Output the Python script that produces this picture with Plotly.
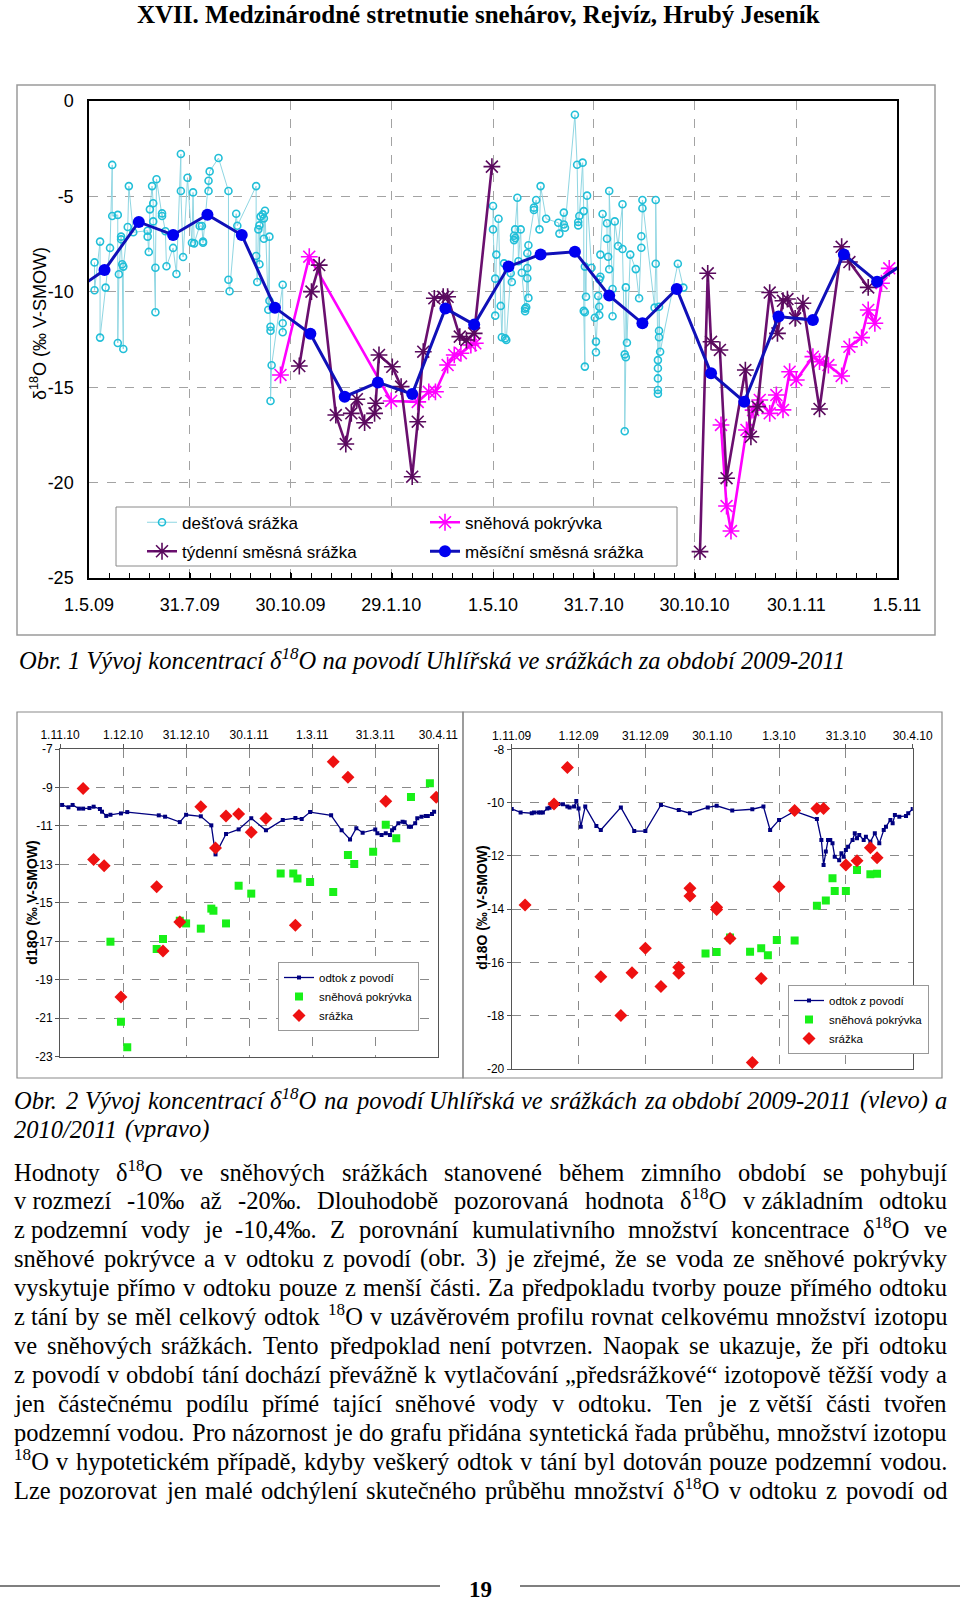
import unicodedata
import plotly.graph_objects as go

W, H = 960, 1601


def px(x):
    return x / W


def py(y):
    return 1 - y / H


SANS = "Liberation Sans, Arial, sans-serif"
NARROW = "Liberation Sans Narrow, Arial Narrow, Liberation Sans, Arial, sans-serif"
SERIF = "Liberation Serif, Times New Roman, serif"

# ---------------------------------------------------------------- top chart data
rain09_dates = ["2009-05-06", "2009-05-06", "2009-05-11", "2009-05-11", "2009-05-16", "2009-05-20",
                "2009-05-22", "2009-05-22", "2009-05-27", "2009-05-27", "2009-05-28", "2009-05-30",
                "2009-05-30", "2009-05-31", "2009-06-01", "2009-06-01", "2009-06-05", "2009-06-06",
                "2009-06-10", "2009-06-23", "2009-06-23", "2009-06-24", "2009-06-25", "2009-06-27",
                "2009-06-28", "2009-06-28", "2009-06-30", "2009-06-30", "2009-07-01", "2009-07-06",
                "2009-07-06", "2009-07-09", "2009-07-10", "2009-07-16", "2009-07-19", "2009-07-23",
                "2009-07-23", "2009-07-25", "2009-07-29", "2009-08-02", "2009-08-03", "2009-08-04",
                "2009-08-09", "2009-08-11", "2009-08-12", "2009-08-12", "2009-08-17", "2009-08-17",
                "2009-08-18", "2009-08-26", "2009-09-04", "2009-09-04", "2009-09-05", "2009-09-11",
                "2009-09-12", "2009-09-29", "2009-09-29", "2009-09-30", "2009-10-01", "2009-10-02",
                "2009-10-02", "2009-10-03", "2009-10-05", "2009-10-06", "2009-10-06", "2009-10-07",
                "2009-10-10", "2009-10-11", "2009-10-11", "2009-10-12", "2009-10-12", "2009-10-12",
                "2009-10-13", "2009-10-23", "2009-10-23", "2009-10-23"]
rain09_vals = [-8.46, -9.92, -7.37, -12.4, -9.78, -7.70,
               -3.35, -6.03, -5.97, -12.68, -9.08, -7.11,
               -7.25, -8.56, -13.0, -8.68, -6.60, -4.46,
               -6.88, -6.80, -7.11, -7.91, -5.68, -4.46,
               -5.36, -6.31, -11.07, -8.74, -4.10, -6.03,
               -5.89, -6.83, -8.66, -7.70, -9.07, -2.78,
               -4.72, -8.18, -4.02, -7.43, -4.79, -7.46,
               -6.55, -6.55, -7.36, -7.43, -4.18, -4.72,
               -3.69, -2.99, -4.72, -9.37, -9.97, -5.91,
               -6.54, -4.46, -8.12, -9.49, -6.73, -6.52,
               -8.56, -6.06, -5.94, -6.15, -7.22, -5.75,
               -10.94, -7.11, -10.47, -12.04, -11.83, -15.72,
               -13.85, -9.63, -11.65, -12.12]

rain10_dates = ["2010-05-01", "2010-05-01", "2010-05-03", "2010-05-03", "2010-05-04", "2010-05-06",
                "2010-05-08", "2010-05-09", "2010-05-11", "2010-05-12", "2010-05-13", "2010-05-17",
                "2010-05-18", "2010-05-20", "2010-05-20", "2010-05-21", "2010-05-21", "2010-05-23",
                "2010-05-24", "2010-05-26", "2010-05-27", "2010-05-30", "2010-05-30", "2010-05-31",
                "2010-06-01", "2010-06-01", "2010-06-01", "2010-06-02", "2010-06-02", "2010-06-07",
                "2010-06-07", "2010-06-09", "2010-06-12", "2010-06-13", "2010-06-18", "2010-06-29",
                "2010-06-30", "2010-07-04", "2010-07-04", "2010-07-05", "2010-07-14", "2010-07-16",
                "2010-07-17", "2010-07-17", "2010-07-18", "2010-07-21", "2010-07-22", "2010-07-22",
                "2010-07-23", "2010-07-23", "2010-07-23", "2010-07-24", "2010-07-25", "2010-07-29",
                "2010-08-01", "2010-08-02", "2010-08-02", "2010-08-04", "2010-08-05", "2010-08-05",
                "2010-08-05", "2010-08-06", "2010-08-06", "2010-08-08", "2010-08-12", "2010-08-12",
                "2010-08-13", "2010-08-14", "2010-08-14", "2010-08-17", "2010-08-17", "2010-08-19",
                "2010-08-22", "2010-08-26", "2010-08-26", "2010-08-28", "2010-08-28", "2010-08-29",
                "2010-08-29", "2010-08-30", "2010-09-02", "2010-09-07", "2010-09-10", "2010-09-12",
                "2010-09-12", "2010-09-13", "2010-09-13", "2010-09-24", "2010-09-25", "2010-09-25",
                "2010-09-27", "2010-09-27", "2010-09-27", "2010-09-27", "2010-09-27", "2010-09-28",
                "2010-09-28", "2010-09-28", "2010-09-29", "2010-10-15", "2010-10-20"]
rain10_vals = [-5.50, -6.73, -9.31, -11.25, -8.05, -6.17,
               -10.74, -12.38, -8.51, -12.44, -12.53, -9.03,
               -9.49, -7.29, -7.06, -7.18, -6.73, -5.07,
               -8.40, -6.73, -9.00, -10.88, -11.02, -10.81,
               -7.98, -8.75, -9.29, -10.32, -7.56, -5.71,
               -5.59, -5.19, -6.73, -4.46, -6.17, -6.38,
               -6.95, -5.85, -6.47, -6.64, -0.72, -3.34,
               -6.52, -6.34, -6.03, -3.23, -5.77, -11.0,
               -13.92, -11.07, -8.68, -10.26, -4.96, -8.74,
               -11.36, -12.61, -13.17, -10.22, -10.78, -11.22,
               -9.35, -9.21, -8.05, -5.92, -6.41, -7.22,
               -8.16, -8.82, -4.72, -9.85, -11.28, -6.31,
               -7.60, -5.41, -7.76, -13.28, -17.31, -13.43,
               -9.77, -12.67, -8.05, -8.81, -10.34, -7.69,
               -7.09, -5.62, -5.19, -10.83, -8.53, -5.19,
               -13.58, -14.01, -14.54, -15.15, -15.34, -12.38,
               -12.04, -10.78, -13.14, -8.53, -9.78]

week09_dates = ["2009-11-07", "2009-11-18", "2009-11-25", "2009-12-10", "2009-12-19", "2009-12-24",
                "2009-12-29", "2010-01-05", "2010-01-14", "2010-01-15", "2010-01-18", "2010-01-30",
                "2010-02-07", "2010-02-17", "2010-02-22", "2010-02-27", "2010-03-09", "2010-03-17",
                "2010-03-21", "2010-04-01", "2010-04-07", "2010-04-14", "2010-04-30"]
week09_vals = [-13.89, -9.99, -8.60, -16.46, -17.98, -16.37,
               -15.63, -16.86, -16.37, -15.84, -13.31, -13.93,
               -14.97, -19.69, -16.81, -13.14, -10.34, -10.26,
               -10.26, -12.35, -12.53, -12.18, -3.44]

week10_dates = ["2010-11-04", "2010-11-11", "2010-11-14", "2010-11-22", "2010-11-28", "2010-12-15",
                "2010-12-20", "2010-12-26", "2011-01-06", "2011-01-13", "2011-01-18", "2011-01-22",
                "2011-01-29", "2011-02-05", "2011-02-20", "2011-03-12", "2011-03-19", "2011-04-05"]
week10_vals = [-23.62, -9.03, -12.62, -13.05, -19.77, -14.1,
               -17.6, -16.02, -10.04, -12.18, -10.47, -10.38,
               -11.39, -10.6, -16.14, -7.64, -8.44, -9.77]

snow09_dates = ["2009-10-21", "2009-11-16", "2010-01-29", "2010-02-22", "2010-03-04", "2010-03-10",
                "2010-03-21", "2010-03-27", "2010-04-02", "2010-04-11", "2010-04-15"]
snow09_vals = [-14.36, -8.16, -15.72, -15.77, -15.24, -15.24,
               -13.84, -13.31, -13.22, -12.79, -12.7]

snow10_dates = ["2010-11-23", "2010-11-28", "2010-12-02", "2010-12-16", "2010-12-22", "2010-12-28",
                "2011-01-06", "2011-01-12", "2011-01-18", "2011-01-24", "2011-01-30", "2011-02-14",
                "2011-02-20", "2011-02-28", "2011-03-12", "2011-03-19", "2011-03-30", "2011-04-05",
                "2011-04-11", "2011-04-17", "2011-04-24"]
snow10_vals = [-16.98, -21.23, -22.54, -17.24, -16.2, -15.67,
               -16.37, -15.41, -16.19, -14.19, -14.62, -13.4,
               -13.66, -13.84, -14.41, -12.88, -12.4, -10.95,
               -11.65, -9.55, -8.77]

month_dates = ["2009-04-14", "2009-05-15", "2009-06-15", "2009-07-16", "2009-08-16", "2009-09-16",
               "2009-10-16", "2009-11-17", "2009-12-18", "2010-01-17", "2010-02-17", "2010-03-19",
               "2010-04-14", "2010-05-15", "2010-06-13", "2010-07-14", "2010-08-14", "2010-09-13",
               "2010-10-14", "2010-11-14", "2010-12-14", "2011-01-14", "2011-02-14", "2011-03-14",
               "2011-04-13", "2011-05-15"]
month_vals = [-10.1, -8.86, -6.34, -7.02, -5.96, -7.02,
              -10.83, -12.2, -15.5, -14.75, -15.36, -10.87,
              -11.72, -8.68, -8.04, -7.9, -10.2, -11.65,
              -9.85, -14.27, -15.76, -11.3, -11.48, -8.04,
              -9.47, -8.2]

top_tick_dates = ["2009-05-01", "2009-07-31", "2009-10-30", "2010-01-29", "2010-05-01",
                  "2010-07-31", "2010-10-30", "2011-01-30", "2011-05-01"]
top_tick_labels = ["1.5.09", "31.7.09", "30.10.09", "29.1.10", "1.5.10",
                   "31.7.10", "30.10.10", "30.1.11", "1.5.11"]
top_y_ticks = [0, -5, -10, -15, -20, -25]

# ---------------------------------------------------------------- bottom-left (2010/2011)
bl_flow_dates = ["2010-11-02", "2010-11-05", "2010-11-07", "2010-11-10", "2010-11-12", "2010-11-15",
                 "2010-11-17", "2010-11-20", "2010-11-21", "2010-11-23", "2010-11-25", "2010-11-30",
                 "2010-12-03", "2010-12-18", "2010-12-21", "2010-12-28", "2010-12-31", "2011-01-07",
                 "2011-01-12", "2011-01-14", "2011-01-19", "2011-01-25", "2011-01-31", "2011-02-07",
                 "2011-02-15", "2011-02-21", "2011-02-24", "2011-02-28", "2011-03-10", "2011-03-15",
                 "2011-03-19", "2011-03-22", "2011-03-25", "2011-03-31", "2011-04-01", "2011-04-03",
                 "2011-04-05", "2011-04-07", "2011-04-08", "2011-04-09", "2011-04-11", "2011-04-13",
                 "2011-04-14", "2011-04-16", "2011-04-17", "2011-04-19", "2011-04-20", "2011-04-22",
                 "2011-04-24", "2011-04-25", "2011-04-27", "2011-04-28"]
bl_flow_vals = [-9.91, -10.03, -9.91, -10.10, -10.10, -10.07,
                -10.0, -10.12, -10.26, -10.48, -10.42, -10.35,
                -10.28, -10.45, -10.52, -10.80, -10.42, -10.50,
                -10.97, -12.48, -11.42, -11.18, -10.60, -11.23,
                -10.69, -10.59, -10.64, -10.28, -10.45, -11.23,
                -11.70, -11.12, -11.35, -11.18, -11.38, -11.47,
                -11.38, -11.47, -11.23, -11.12, -10.86, -10.78,
                -10.81, -11.04, -11.04, -10.86, -10.60, -10.52,
                -10.48, -10.48, -10.38, -10.26]

bl_snow_dates = ["2010-11-25", "2010-11-30", "2010-12-03", "2010-12-17", "2010-12-20", "2010-12-28",
                 "2010-12-31", "2011-01-07", "2011-01-12", "2011-01-13", "2011-01-19", "2011-01-25",
                 "2011-01-31", "2011-02-14", "2011-02-20", "2011-02-22", "2011-02-28", "2011-03-11",
                 "2011-03-18", "2011-03-21", "2011-03-30", "2011-04-05", "2011-04-10", "2011-04-17",
                 "2011-04-26"]
bl_snow_vals = [-17.02, -21.18, -22.51, -17.40, -16.88, -15.93,
                -16.07, -16.34, -15.30, -15.41, -16.07, -14.11,
                -14.52, -13.48, -13.48, -13.73, -13.92, -14.44,
                -12.51, -12.98, -12.34, -10.94, -11.64, -9.50,
                -8.78]

bl_rain_dates = ["2010-11-12", "2010-11-17", "2010-11-22", "2010-11-30", "2010-12-17", "2010-12-20",
                 "2010-12-28", "2011-01-07", "2011-01-14", "2011-01-19", "2011-01-25", "2011-01-31",
                 "2011-02-07", "2011-02-21", "2011-03-11", "2011-03-18", "2011-04-05", "2011-04-29"]
bl_rain_vals = [-9.05, -12.74, -13.07, -19.90, -14.16, -17.50,
                -16.0, -10.0, -12.15, -10.48, -10.38, -11.33,
                -10.62, -16.17, -7.66, -8.47, -9.72, -9.51]

bl_tick_dates = ["2010-11-01", "2010-12-01", "2010-12-31", "2011-01-30", "2011-03-01", "2011-03-31", "2011-04-30"]
bl_tick_labels = ["1.11.10", "1.12.10", "31.12.10", "30.1.11", "1.3.11", "31.3.11", "30.4.11"]
bl_y_ticks = [-7, -9, -11, -13, -15, -17, -19, -21, -23]

# ---------------------------------------------------------------- bottom-right (2009/2010)
br_flow_dates = ["2009-11-01", "2009-11-05", "2009-11-10", "2009-11-11", "2009-11-13", "2009-11-14",
                 "2009-11-15", "2009-11-17", "2009-11-18", "2009-11-20", "2009-11-22", "2009-11-24",
                 "2009-11-26", "2009-11-27", "2009-11-29", "2009-11-30", "2009-12-01", "2009-12-02",
                 "2009-12-04", "2009-12-09", "2009-12-11", "2009-12-20", "2009-12-26", "2009-12-31",
                 "2010-01-07", "2010-01-15", "2010-01-20", "2010-01-28", "2010-02-01", "2010-02-08",
                 "2010-02-17", "2010-02-22", "2010-02-25", "2010-03-01", "2010-03-08", "2010-03-18",
                 "2010-03-20", "2010-03-21", "2010-03-22", "2010-03-23", "2010-03-24", "2010-03-25",
                 "2010-03-26", "2010-03-28", "2010-03-29", "2010-03-30", "2010-03-31", "2010-04-01",
                 "2010-04-03", "2010-04-04", "2010-04-05", "2010-04-06", "2010-04-08", "2010-04-09",
                 "2010-04-11", "2010-04-13", "2010-04-15", "2010-04-17", "2010-04-18", "2010-04-20",
                 "2010-04-21", "2010-04-22", "2010-04-24", "2010-04-27", "2010-04-28", "2010-04-30"]
br_flow_vals = [-10.24, -10.37, -10.40, -10.37, -10.37, -10.37,
                -10.37, -10.22, -10.19, -10.15, -10.05, -10.06,
                -10.15, -10.18, -10.15, -9.94, -10.22, -10.91,
                -10.15, -10.88, -11.03, -10.18, -11.07, -11.07,
                -10.09, -10.28, -10.40, -10.18, -10.12, -10.30,
                -10.25, -10.15, -11.03, -10.65, -10.32, -10.62,
                -11.40, -12.34, -11.84, -11.40, -11.40, -11.53,
                -12.03, -12.16, -11.90, -12.03, -11.78, -11.66,
                -11.40, -11.15, -11.34, -11.22, -11.40, -11.28,
                -11.47, -11.15, -11.53, -11.03, -10.91, -10.65,
                -10.78, -10.47, -10.53, -10.50, -10.40, -10.24]

br_snow_dates = ["2010-01-27", "2010-02-01", "2010-02-07", "2010-02-16", "2010-02-21", "2010-02-24",
                 "2010-02-28", "2010-03-08", "2010-03-18", "2010-03-22", "2010-03-25", "2010-03-26",
                 "2010-03-31", "2010-04-05", "2010-04-11", "2010-04-14"]
br_snow_vals = [-15.66, -15.61, -15.06, -15.60, -15.47, -15.73,
                -15.16, -15.18, -13.87, -13.68, -12.84, -13.32,
                -13.32, -12.53, -12.69, -12.67]

br_rain_dates = ["2009-11-07", "2009-11-20", "2009-11-26", "2009-12-11", "2009-12-20", "2009-12-25",
                 "2009-12-31", "2010-01-07", "2010-01-15", "2010-01-15", "2010-01-20", "2010-01-20",
                 "2010-02-01", "2010-02-01", "2010-02-07", "2010-02-17", "2010-02-21", "2010-03-01",
                 "2010-03-08", "2010-03-18", "2010-03-21", "2010-03-31", "2010-04-05", "2010-04-11",
                 "2010-04-14"]
br_rain_vals = [-13.84, -10.05, -8.68, -16.54, -17.99, -16.39,
                -15.47, -16.90, -16.18, -16.41, -13.22, -13.51,
                -13.93, -14.01, -15.10, -19.76, -16.60, -13.16,
                -10.30, -10.22, -10.22, -12.34, -12.18, -11.70,
                -12.07]

br_tick_dates = ["2009-11-01", "2009-12-01", "2009-12-31", "2010-01-30", "2010-03-01", "2010-03-31", "2010-04-30"]
br_tick_labels = ["1.11.09", "1.12.09", "31.12.09", "30.1.10", "1.3.10", "31.3.10", "30.4.10"]
br_y_ticks = [-8, -10, -12, -14, -16, -18, -20]

# ---------------------------------------------------------------- texts
page_title = "XVII. Medzinárodné stretnutie snehárov, Rejvíz, Hrubý Jeseník"
caption1 = "Obr. 1 Vývoj koncentrací δ<sup>18</sup>O na povodí Uhlířská ve srážkách za období 2009-2011"
caption2_lines = [
    "Obr. 2 Vývoj koncentrací δ<sup>18</sup>O na povodí Uhlířská ve srážkách za období 2009-2011 (vlevo) a",
    "2010/2011 (vpravo)",
]
body_lines = [
    "Hodnoty δ<sup>18</sup>O ve sněhových srážkách stanovené během zimního období se pohybují",
    "v\u00a0rozmezí -10‰ až -20‰. Dlouhodobě pozorovaná hodnota δ<sup>18</sup>O v\u00a0základním odtoku",
    "z\u00a0podzemní vody je -10,4‰. Z porovnání kumulativního množství koncentrace δ<sup>18</sup>O ve",
    "sněhové pokrývce a v odtoku z povodí (obr. 3) je zřejmé, že se voda ze sněhové pokrývky",
    "vyskytuje přímo v odtoku pouze z menší části. Za předpokladu tvorby pouze přímého odtoku",
    "z\u00a0tání by se měl celkový odtok <sup>18</sup>O v uzávěrovém profilu rovnat celkovému množství izotopu",
    "ve sněhových srážkách. Tento předpoklad není potvrzen. Naopak se ukazuje, že při odtoku",
    "z povodí v období tání dochází převážně k vytlačování „předsrážkové“ izotopově těžší vody a",
    "jen částečnému podílu přímé tající sněhové vody  v odtoku. Ten je z\u00a0větší části tvořen",
    "podzemní vodou. Pro názornost je do grafu přidána syntetická řada průběhu, množství izotopu",
    "<sup>18</sup>O v hypotetickém případě, kdyby veškerý odtok v tání byl dotován pouze podzemní vodou.",
    "Lze pozorovat jen malé odchýlení skutečného průběhu množství δ<sup>18</sup>O v odtoku z povodí od",
]
page_number = "19"

# ---------------------------------------------------------------- font metrics (Times) for justification
ROMAN = {' ': 250, '\u00a0': 250, '(': 333, ')': 333, ',': 250, '-': 333, '.': 250, '/': 278,
         ':': 278, ';': 278, '‰': 1000, '„': 444, '“': 444, 'δ': 500,
         'A': 722, 'B': 667, 'C': 667, 'D': 722, 'E': 611, 'F': 556, 'G': 722, 'H': 722, 'I': 333,
         'J': 389, 'K': 722, 'L': 611, 'M': 889, 'N': 722, 'O': 722, 'P': 556, 'Q': 722, 'R': 667,
         'S': 556, 'T': 611, 'U': 722, 'V': 722, 'W': 944, 'X': 722, 'Y': 722, 'Z': 611,
         'a': 444, 'b': 500, 'c': 444, 'd': 500, 'e': 444, 'f': 333, 'g': 500, 'h': 500, 'i': 278,
         'j': 278, 'k': 500, 'l': 278, 'm': 778, 'n': 500, 'o': 500, 'p': 500, 'q': 500, 'r': 333,
         's': 389, 't': 278, 'u': 500, 'v': 500, 'w': 722, 'x': 500, 'y': 500, 'z': 444}
ITALIC = dict(ROMAN)
ITALIC.update({'A': 611, 'B': 611, 'F': 611, 'K': 667, 'L': 556, 'M': 833, 'N': 667, 'P': 611,
               'R': 611, 'S': 500, 'T': 556, 'V': 611, 'W': 833, 'X': 611, 'Y': 556, 'Z': 556,
               'a': 500, 'f': 278, 'k': 444, 'm': 722, 'r': 389, 'v': 444, 'w': 667, 'x': 444,
               'y': 444, 'z': 389})


def text_width(s, table, size):
    w, scale, i = 0.0, 1.0, 0
    while i < len(s):
        if s.startswith('<sup>', i):
            scale, i = 0.7, i + 5
            continue
        if s.startswith('</sup>', i):
            scale, i = 1.0, i + 6
            continue
        ch = s[i]
        base = unicodedata.normalize('NFD', ch)[0]
        w += table.get(ch, table.get(base, 500)) * scale
        i += 1
    return w / 1000.0 * size


# ---------------------------------------------------------------- figure
fig = go.Figure()

gap_x = [None]
fig.add_trace(go.Scatter(
    x=rain09_dates + gap_x + rain10_dates, y=rain09_vals + [None] + rain10_vals,
    mode="lines+markers", name="dešťová srážka", legend="legend",
    line=dict(color="#8fd6e2", width=1),
    marker=dict(symbol="circle-open", size=7, color="#22bfd8", line=dict(width=1.6, color="#22bfd8")),
    xaxis="x", yaxis="y", connectgaps=False))
fig.add_trace(go.Scatter(
    x=snow09_dates + gap_x + snow10_dates, y=snow09_vals + [None] + snow10_vals,
    mode="lines+markers", name="sněhová pokrývka", legend="legend3",
    line=dict(color="#ff00ff", width=2.6),
    marker=dict(symbol="asterisk-open", size=14, color="#ff00ff", line=dict(width=1.6, color="#ff00ff")),
    xaxis="x", yaxis="y", connectgaps=False))
fig.add_trace(go.Scatter(
    x=week09_dates + gap_x + week10_dates, y=week09_vals + [None] + week10_vals,
    mode="lines+markers", name="týdenní směsná srážka", legend="legend2",
    line=dict(color="#6a0f6e", width=2.6),
    marker=dict(symbol="asterisk-open", size=14, color="#5a0a5e", line=dict(width=1.6, color="#5a0a5e")),
    xaxis="x", yaxis="y", connectgaps=False))
fig.add_trace(go.Scatter(
    x=month_dates, y=month_vals,
    mode="lines+markers", name="měsíční směsná srážka", legend="legend4",
    line=dict(color="#1010b8", width=3),
    marker=dict(symbol="circle", size=12, color="#0000f0"),
    xaxis="x", yaxis="y"))

# bottom-left
fig.add_trace(go.Scatter(x=bl_flow_dates, y=bl_flow_vals, mode="lines+markers", name="odtok z povodí",
                         legend="legend5", line=dict(color="#000080", width=1.3),
                         marker=dict(symbol="square", size=4, color="#000080"), xaxis="x2", yaxis="y2"))
fig.add_trace(go.Scatter(x=bl_snow_dates, y=bl_snow_vals, mode="markers", name="sněhová pokrývka",
                         legend="legend5", marker=dict(symbol="square", size=8, color="#18f018"),
                         xaxis="x2", yaxis="y2"))
fig.add_trace(go.Scatter(x=bl_rain_dates, y=bl_rain_vals, mode="markers", name="srážka",
                         legend="legend5", marker=dict(symbol="diamond", size=10, color="#ee1111"),
                         xaxis="x2", yaxis="y2"))
# bottom-right
fig.add_trace(go.Scatter(x=br_flow_dates, y=br_flow_vals, mode="lines+markers", name="odtok z povodí",
                         legend="legend6", line=dict(color="#000080", width=1.3),
                         marker=dict(symbol="square", size=4, color="#000080"), xaxis="x3", yaxis="y3"))
fig.add_trace(go.Scatter(x=br_snow_dates, y=br_snow_vals, mode="markers", name="sněhová pokrývka",
                         legend="legend6", marker=dict(symbol="square", size=8, color="#18f018"),
                         xaxis="x3", yaxis="y3"))
fig.add_trace(go.Scatter(x=br_rain_dates, y=br_rain_vals, mode="markers", name="srážka",
                         legend="legend6", marker=dict(symbol="diamond", size=10, color="#ee1111"),
                         xaxis="x3", yaxis="y3"))

GRID = "#a3a3a3"
GRID2 = "#8a8a8a"
SMALL = 12

fig.update_layout(
    width=W, height=H, autosize=False,
    margin=dict(l=0, r=0, t=0, b=0, autoexpand=False),
    paper_bgcolor="white", plot_bgcolor="white",
    showlegend=True,
    xaxis=dict(type="date", domain=[px(89), px(897)], range=["2009-05-01", "2011-05-01"],
               anchor="y", tickmode="array", tickvals=top_tick_dates, ticktext=top_tick_labels,
               showgrid=True, gridcolor=GRID, griddash="dash", gridwidth=1,
               showline=True, linecolor="black", linewidth=1.5, mirror=True,
               ticks="inside", ticklen=6, tickcolor="black", ticklabelstandoff=10,
               tickfont=dict(family=SANS, size=18, color="black"), zeroline=False, automargin=False,
               minor=dict(tickmode="linear", tick0="2009-05-01", dtick=1576800000,
                          ticks="inside", ticklen=5, tickcolor="black", showgrid=False)),
    yaxis=dict(domain=[py(578), py(101)], range=[-25, 0], anchor="x",
               tickmode="array", tickvals=top_y_ticks, ticktext=[str(v) for v in top_y_ticks],
               showgrid=True, gridcolor=GRID, griddash="dash", gridwidth=1,
               showline=True, linecolor="black", linewidth=1.5, mirror=True,
               ticks="", ticklabelstandoff=10, automargin=False,
               tickfont=dict(family=SANS, size=18, color="black"), zeroline=False),
    xaxis2=dict(type="date", domain=[px(60), px(438.3)], range=["2010-11-01", "2011-04-30"],
                anchor="y2", side="top", tickmode="array", tickvals=bl_tick_dates, ticktext=bl_tick_labels,
                showgrid=True, gridcolor=GRID2, griddash="dash", gridwidth=1,
                showline=True, linecolor="#555555", linewidth=1, mirror=True,
                ticks="outside", ticklen=4, tickcolor="#555555", automargin=False,
                tickfont=dict(family=NARROW, size=SMALL, color="black"), zeroline=False),
    yaxis2=dict(domain=[py(1056.7), py(749)], range=[-23, -7], anchor="x2",
                tickmode="array", tickvals=bl_y_ticks, ticktext=[str(v) for v in bl_y_ticks],
                showgrid=True, gridcolor=GRID2, griddash="dash", gridwidth=1,
                showline=True, linecolor="#555555", linewidth=1, mirror=True,
                ticks="outside", ticklen=4, tickcolor="#555555", automargin=False,
                tickfont=dict(family=NARROW, size=SMALL, color="black"), zeroline=False),
    xaxis3=dict(type="date", domain=[px(511.7), px(912.7)], range=["2009-11-01", "2010-04-30"],
                anchor="y3", side="top", tickmode="array", tickvals=br_tick_dates, ticktext=br_tick_labels,
                showgrid=True, gridcolor=GRID2, griddash="dash", gridwidth=1,
                showline=True, linecolor="#555555", linewidth=1, mirror=True,
                ticks="outside", ticklen=4, tickcolor="#555555", automargin=False,
                tickfont=dict(family=NARROW, size=SMALL, color="black"), zeroline=False),
    yaxis3=dict(domain=[py(1069), py(749.3)], range=[-20, -8], anchor="x3",
                tickmode="array", tickvals=br_y_ticks, ticktext=[str(v) for v in br_y_ticks],
                showgrid=True, gridcolor=GRID2, griddash="dash", gridwidth=1,
                showline=True, linecolor="#555555", linewidth=1, mirror=True,
                ticks="outside", ticklen=4, tickcolor="#555555", automargin=False,
                tickfont=dict(family=NARROW, size=SMALL, color="black"), zeroline=False),
)

top_leg = dict(xanchor="left", yanchor="middle", bgcolor="rgba(0,0,0,0)", borderwidth=0,
               font=dict(family=SANS, size=17, color="black"))
fig.update_layout(
    legend=dict(x=px(142), y=py(522.7), **top_leg),
    legend2=dict(x=px(142), y=py(551.7), **top_leg),
    legend3=dict(x=px(425), y=py(522.7), **top_leg),
    legend4=dict(x=px(425), y=py(551.7), **top_leg),
    legend5=dict(x=px(278), y=py(962), xanchor="left", yanchor="top", bgcolor="white",
                 bordercolor="#999999", borderwidth=1, font=dict(family=NARROW, size=11.5, color="black")),
    legend6=dict(x=px(788), y=py(985), xanchor="left", yanchor="top", bgcolor="white",
                 bordercolor="#999999", borderwidth=1, font=dict(family=NARROW, size=11.5, color="black")),
)

# frames and top legend box
shapes = [
    dict(type="rect", xref="paper", yref="paper", x0=px(17), x1=px(935), y0=py(85), y1=py(635),
         line=dict(color="#9a9a9a", width=1.5), layer="below"),
    dict(type="rect", xref="paper", yref="paper", x0=px(17), x1=px(463), y0=py(712), y1=py(1078),
         line=dict(color="#8a8a8a", width=1.2), layer="below"),
    dict(type="rect", xref="paper", yref="paper", x0=px(463), x1=px(942), y0=py(712), y1=py(1078),
         line=dict(color="#8a8a8a", width=1.2), layer="below"),
    dict(type="rect", xref="paper", yref="paper", x0=px(116), x1=px(677), y0=py(507), y1=py(566),
         line=dict(color="#8a8a8a", width=1), fillcolor="white", layer="above"),
    dict(type="line", xref="paper", yref="paper", x0=px(0), x1=px(440), y0=py(1586), y1=py(1586),
         line=dict(color="#555555", width=1.5)),
    dict(type="line", xref="paper", yref="paper", x0=px(520), x1=px(960), y0=py(1586), y1=py(1586),
         line=dict(color="#555555", width=1.5)),
]
fig.update_layout(shapes=shapes)

ann = []
ann.append(dict(x=px(478.5), y=py(15), xref="paper", yref="paper", xanchor="center", yanchor="middle",
                text="<b>" + page_title + "</b>", showarrow=False,
                font=dict(family=SERIF, size=25, color="black")))
ann.append(dict(x=px(38), y=py(324), xref="paper", yref="paper", xanchor="center", yanchor="middle",
                text="δ<sup>18</sup>O (‰ V-SMOW)", textangle=-90, showarrow=False,
                font=dict(family=SANS, size=18, color="black")))
ann.append(dict(x=px(31.7), y=py(903), xref="paper", yref="paper", xanchor="center", yanchor="middle",
                text="<b>d18O (‰ V-SMOW)</b>", textangle=-90, showarrow=False,
                font=dict(family=SANS, size=14, color="black")))
ann.append(dict(x=px(481.7), y=py(908), xref="paper", yref="paper", xanchor="center", yanchor="middle",
                text="<b>d18O (‰ V-SMOW)</b>", textangle=-90, showarrow=False,
                font=dict(family=SANS, size=14, color="black")))
ann.append(dict(x=px(17), y=py(659), xref="paper", yref="paper", xanchor="left", yanchor="middle",
                text="<i>" + caption1 + "</i>", showarrow=False,
                font=dict(family=SERIF, size=24.5, color="black")))
ann.append(dict(x=px(480), y=py(1589), xref="paper", yref="paper", xanchor="center", yanchor="middle",
                text="<b>" + page_number + "</b>", showarrow=False,
                font=dict(family=SERIF, size=23, color="black")))

X0, X1 = 13, 946
BASE_OFF = 14


def add_line(line, yc, size, italic, justify):
    table = ITALIC if italic else ROMAN
    words = [w for w in line.split(" ") if w]
    widths = [text_width(w, table, size) for w in words]
    if justify and len(words) > 1:
        gap = (X1 - X0 - sum(widths)) / (len(words) - 1)
    else:
        gap = 0.25 * size
    x = X0
    for w, wd in zip(words, widths):
        t = w.replace("\u00a0", " ")
        if italic:
            t = "<i>" + t + "</i>"
        ann.append(dict(x=px(x), y=py(yc + BASE_OFF), xref="paper", yref="paper",
                        xanchor="left", yanchor="bottom", text=t, showarrow=False, borderpad=0,
                        font=dict(family=SERIF, size=size, color="black")))
        x += wd + gap


cap_y = [1101, 1129.6]
for i, line in enumerate(caption2_lines):
    add_line(line, cap_y[i], 24.5, True, i == 0)

for i, line in enumerate(body_lines):
    add_line(line, 1172.5 + i * 28.95, 24.5, False, True)

fig.update_layout(annotations=ann)

fig.write_html("out.html",
               config={"displayModeBar": False},
               post_script="document.body.style.margin='0px';document.body.style.padding='0px';")
